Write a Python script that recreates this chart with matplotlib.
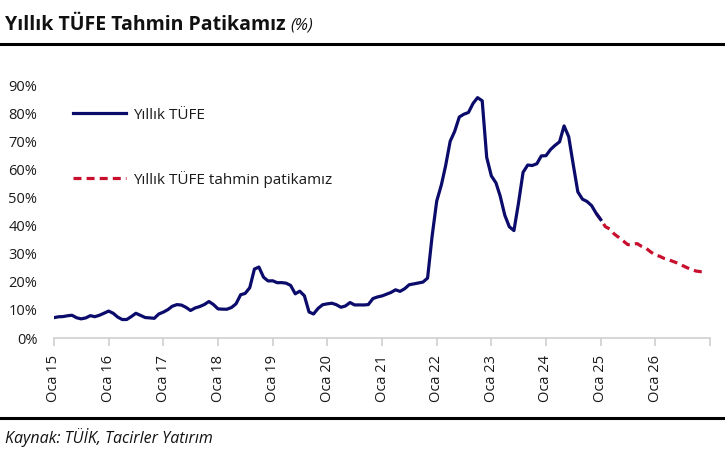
import numpy as np
import pandas as pd
import matplotlib
matplotlib.use("Agg")
import matplotlib.pyplot as plt
from matplotlib.lines import Line2D

plt.rcParams['font.family'] = ['Open Sans', 'DejaVu Sans']

# Annual CPI (%), monthly, Jan 2015 - Jan 2025
cpi_actual = [
    7.24, 7.55, 7.61, 7.91, 8.09, 7.20, 6.81, 7.14, 7.95, 7.58, 8.10, 8.81,      # 2015
    9.58, 8.78, 7.46, 6.57, 6.58, 7.64, 8.79, 8.05, 7.28, 7.16, 7.00, 8.53,      # 2016
    9.22, 10.13, 11.29, 11.87, 11.72, 10.90, 9.79, 10.68, 11.20, 11.90, 12.98, 11.92,  # 2017
    10.35, 10.26, 10.23, 10.85, 12.15, 15.39, 15.85, 17.90, 24.52, 25.24, 21.62, 20.30,  # 2018
    20.35, 19.67, 19.71, 19.50, 18.71, 15.72, 16.65, 15.01, 9.26, 8.55, 10.56, 11.84,   # 2019
    12.15, 12.37, 11.86, 10.94, 11.39, 12.62, 11.76, 11.77, 11.75, 11.89, 14.03, 14.60,  # 2020
    14.97, 15.61, 16.19, 17.14, 16.59, 17.53, 18.95, 19.25, 19.58, 19.89, 21.31, 36.08,  # 2021
    48.69, 54.44, 61.14, 69.97, 73.50, 78.62, 79.60, 80.21, 83.45, 85.51, 84.39, 64.27,  # 2022
    57.68, 55.18, 50.51, 43.68, 39.59, 38.21, 47.83, 58.94, 61.53, 61.36, 61.98, 64.77,  # 2023
    64.86, 67.07, 68.50, 69.80, 75.45, 71.60, 61.78, 51.97, 49.38, 48.58, 47.09, 44.38,  # 2024
    42.12,                                                                         # 2025
]
# Forecast path, Dec 2024 - Dec 2026
cpi_forecast = [
    44.4,
    42.1, 39.6, 38.8, 37.0, 35.8, 34.5, 33.2, 33.3, 33.6, 32.6, 31.9, 30.6,
    29.6, 29.0, 28.3, 27.8, 27.2, 26.6, 25.8, 25.0, 24.3, 23.8, 23.6, 23.6,
]
actual_dates = pd.date_range("2015-01-01", periods=len(cpi_actual), freq="MS")
forecast_dates = pd.date_range("2024-12-01", periods=len(cpi_forecast), freq="MS")
year_ticks = pd.date_range("2015-01-01", "2027-01-01", freq="YS")
tick_labels = [f"Oca {d.year % 100:02d}" for d in year_ticks[:-1]] + [""]

navy = "#0b0b6b"
red = "#c8102e"
text_col = "#1a1a1a"

fig = plt.figure(figsize=(7.25, 4.53), dpi=100)
ax = fig.add_axes([54 / 725, 1 - 338 / 453, 656 / 725, (338 - 85) / 453])

ax.plot(forecast_dates, cpi_forecast, color=red, lw=2.3, ls=(0, (2.5, 1.6)),
        label="Yıllık TÜFE tahmin patikamız", zorder=2)
ax.plot(actual_dates, cpi_actual, color=navy, lw=2.3, label="Yıllık TÜFE",
        solid_joinstyle="round", zorder=3)

ax.set_xlim(year_ticks[0], year_ticks[-1])
ax.set_ylim(0, 90)
ax.set_yticks(np.arange(0, 91, 10))
ax.set_yticklabels([f"{v}%" for v in range(0, 91, 10)], fontsize=10.5, color=text_col)
ax.set_xticks(year_ticks)
ax.set_xticklabels(tick_labels, rotation=90, fontsize=10.5, color=text_col)

for s in ["top", "right", "left"]:
    ax.spines[s].set_visible(False)
ax.spines["bottom"].set_color("#d0d0d0")
ax.spines["bottom"].set_linewidth(1.2)
ax.tick_params(axis="y", length=0, pad=12)
ax.tick_params(axis="x", length=6, width=1.2, color="#d0d0d0", pad=6)

handles, labels = ax.get_legend_handles_labels()
leg = ax.legend(handles[::-1], labels[::-1], loc="upper left",
                bbox_to_anchor=(0.008, 0.965), frameon=False, fontsize=11,
                handlelength=3.5, handletextpad=0.45, labelspacing=3.15)
for t in leg.get_texts():
    t.set_color(text_col)

# title and rules
title = fig.text(5 / 725, 1 - 30 / 453, "Yıllık TÜFE Tahmin Patikamız", fontsize=14,
                 fontweight="bold", va="baseline", ha="left", color="#111111")
fig.canvas.draw()
tb = title.get_window_extent(fig.canvas.get_renderer())
fig.text((tb.x1 + 5) / 725, 1 - 30 / 453, "(%)", fontsize=12, fontstyle="italic",
         va="baseline", ha="left", color="#111111")
fig.add_artist(Line2D([0, 1], [1 - 44 / 453] * 2, transform=fig.transFigure,
                      color="black", lw=2.2))
fig.add_artist(Line2D([0, 1], [1 - 418 / 453] * 2, transform=fig.transFigure,
                      color="black", lw=2.2))
fig.text(5 / 725, 1 - 443 / 453, "Kaynak: TÜİK, Tacirler Yatırım", fontsize=11.5,
         fontstyle="italic", va="baseline", ha="left", color="#111111")

fig.savefig("out.png", dpi=100)
